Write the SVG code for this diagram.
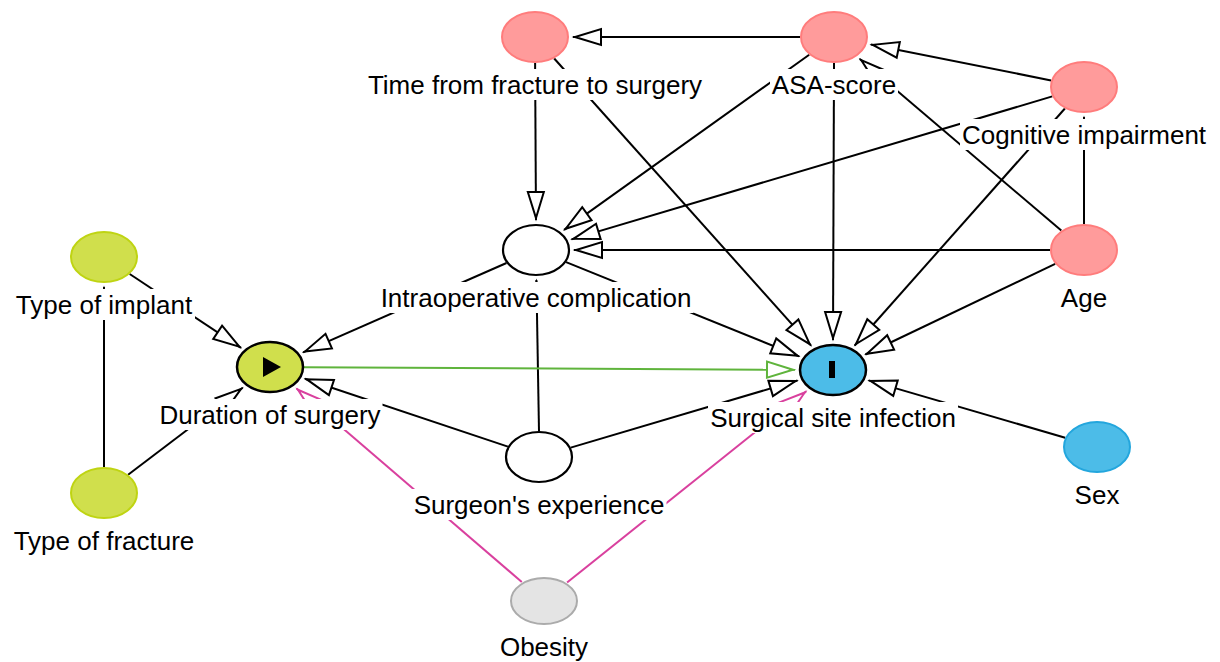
<svg xmlns="http://www.w3.org/2000/svg" width="1220" height="662" viewBox="0 0 1220 662">
  <style>
    .edge { fill: none; stroke: #000; stroke-width: 2; }
    .edge.causal { stroke: #5fb43c; }
    .edge.bias { stroke: #d9409e; }
    .lblbg { fill: #fff; }
    .lbl { font-family: "Liberation Sans", Arial, sans-serif; font-size: 26px; fill: #000; text-anchor: middle; }
    .conf { fill: #ff9b9b; stroke: #ff7c7c; stroke-width: 2; }
    .anc-exp { fill: #d0df4c; stroke: #bfd412; stroke-width: 2; }
    .anc-out { fill: #4cbce8; stroke: #23a6dd; stroke-width: 2; }
    .plain { fill: #fff; stroke: #000; stroke-width: 2.2; }
    .exposure { fill: #d0df4c; stroke: #000; stroke-width: 2.5; }
    .outcome { fill: #4cbce8; stroke: #000; stroke-width: 2.5; }
    .other { fill: #e4e4e4; stroke: #ababab; stroke-width: 2; }
  </style>
  <defs>
    <marker id="arr" viewBox="-32 -11 34 22" refX="0" refY="0" markerWidth="34" markerHeight="22" markerUnits="userSpaceOnUse" orient="auto">
      <path d="M-2,0 L-28,-8 L-28,8 Z" fill="#fff" stroke="#000" stroke-width="2"/>
    </marker>
    <marker id="arr-causal" viewBox="-32 -11 34 22" refX="0" refY="0" markerWidth="34" markerHeight="22" markerUnits="userSpaceOnUse" orient="auto">
      <path d="M-2,0 L-28,-8 L-28,8 Z" fill="#fff" stroke="#5fb43c" stroke-width="2"/>
    </marker>
    <marker id="arr-bias" viewBox="-32 -11 34 22" refX="0" refY="0" markerWidth="34" markerHeight="22" markerUnits="userSpaceOnUse" orient="auto">
      <path d="M-2,0 L-28,-8 L-28,8 Z" fill="#fff" stroke="#d9409e" stroke-width="2"/>
    </marker>
  </defs>

  <rect width="1220" height="662" fill="#fff"/>

  <!-- connectors, clipped at the ellipse borders -->
  <g id="edges">
    <line class="edge" x1="800" y1="37" x2="573" y2="37" marker-end="url(#arr)"/>
    <line class="edge" x1="1051.1" y1="80.4" x2="870.8" y2="44.4" marker-end="url(#arr)"/>
    <line class="edge" x1="1061.3" y1="230.6" x2="859.8" y2="58.9" marker-end="url(#arr)"/>
    <line class="edge" x1="535.1" y1="63" x2="536" y2="220" marker-end="url(#arr)"/>
    <line class="edge" x1="554.2" y1="58.5" x2="811.1" y2="345.6" marker-end="url(#arr)"/>
    <line class="edge" x1="809.2" y1="54.8" x2="564.1" y2="229.9" marker-end="url(#arr)"/>
    <line class="edge" x1="834" y1="63" x2="833" y2="340" marker-end="url(#arr)"/>
    <line class="edge" x1="1052.3" y1="96.4" x2="571.5" y2="239.4" marker-end="url(#arr)"/>
    <line class="edge" x1="1064.9" y1="108.5" x2="854.7" y2="345.5" marker-end="url(#arr)"/>
    <line class="edge" x1="1084" y1="224" x2="1084" y2="117" marker-end="url(#arr)"/>
    <line class="edge" x1="1050" y1="250" x2="574" y2="250" marker-end="url(#arr)"/>
    <line class="edge" x1="1055.2" y1="263.8" x2="865.4" y2="354.5" marker-end="url(#arr)"/>
    <line class="edge" x1="1065.2" y1="437.7" x2="868.6" y2="380.4" marker-end="url(#arr)"/>
    <line class="edge" x1="506.5" y1="263" x2="303.1" y2="352.4" marker-end="url(#arr)"/>
    <line class="edge" x1="566.1" y1="262.1" x2="799.2" y2="356.4" marker-end="url(#arr)"/>
    <line class="edge" x1="507.9" y1="446.6" x2="304.9" y2="378.7" marker-end="url(#arr)"/>
    <line class="edge" x1="570.7" y1="447.6" x2="797.5" y2="380.5" marker-end="url(#arr)"/>
    <line class="edge" x1="539" y1="431" x2="536.4" y2="280" marker-end="url(#arr)"/>
    <line class="edge" x1="129.7" y1="274" x2="241" y2="347.8" marker-end="url(#arr)"/>
    <line class="edge" x1="128.1" y1="474.7" x2="242.7" y2="387.7" marker-end="url(#arr)"/>
    <line class="edge" x1="104" y1="467" x2="104" y2="287" marker-end="url(#arr)"/>
    <line class="edge causal" x1="304" y1="367.2" x2="795" y2="369.8" marker-end="url(#arr-causal)"/>
    <line class="edge bias" x1="521.8" y1="582" x2="296.5" y2="388.5" marker-end="url(#arr-bias)"/>
    <line class="edge bias" x1="567.1" y1="582.5" x2="806.3" y2="391.2" marker-end="url(#arr-bias)"/>
  </g>

  <!-- variables -->
  <g id="time-to-surgery">
    <ellipse class="conf" cx="535" cy="37" rx="33" ry="25"/>
    <rect class="lblbg" x="365.5" y="69" width="339" height="31"/>
    <text class="lbl" x="535" y="94">Time from fracture to surgery</text>
  </g>
  <g id="asa-score">
    <ellipse class="conf" cx="834" cy="37" rx="33" ry="25"/>
    <rect class="lblbg" x="770" y="69" width="128" height="31"/>
    <text class="lbl" x="834" y="94">ASA-score</text>
  </g>
  <g id="cognitive-impairment">
    <ellipse class="conf" cx="1084" cy="87" rx="33" ry="25"/>
    <rect class="lblbg" x="960" y="119" width="248" height="31"/>
    <text class="lbl" x="1084" y="144">Cognitive impairment</text>
  </g>
  <g id="age">
    <ellipse class="conf" cx="1084" cy="250" rx="33" ry="25"/>
    <rect class="lblbg" x="1059" y="282" width="50" height="31"/>
    <text class="lbl" x="1084" y="307">Age</text>
  </g>
  <g id="intraoperative-complication">
    <ellipse class="plain" cx="536" cy="250" rx="33" ry="25"/>
    <rect class="lblbg" x="378.5" y="282" width="315" height="31"/>
    <text class="lbl" x="536" y="307">Intraoperative complication</text>
  </g>
  <g id="type-of-implant">
    <ellipse class="anc-exp" cx="104" cy="257" rx="33" ry="25"/>
    <rect class="lblbg" x="13" y="289" width="182" height="31"/>
    <text class="lbl" x="104" y="314">Type of implant</text>
  </g>
  <g id="duration-of-surgery">
    <ellipse class="exposure" cx="270" cy="367" rx="33" ry="25"/>
    <path d="M263,357 L281,367 L263,377 Z" fill="#000"/>
    <rect class="lblbg" x="157.5" y="399" width="225" height="31"/>
    <text class="lbl" x="270" y="424">Duration of surgery</text>
  </g>
  <g id="surgical-site-infection">
    <ellipse class="outcome" cx="833" cy="370" rx="33" ry="25"/>
    <rect x="829" y="361" width="6" height="17" fill="#000"/>
    <rect class="lblbg" x="708" y="402" width="250" height="31"/>
    <text class="lbl" x="833" y="427">Surgical site infection</text>
  </g>
  <g id="surgeons-experience">
    <ellipse class="plain" cx="539" cy="457" rx="33" ry="25"/>
    <rect class="lblbg" x="411.5" y="489" width="255" height="31"/>
    <text class="lbl" x="539" y="514">Surgeon's experience</text>
  </g>
  <g id="type-of-fracture">
    <ellipse class="anc-exp" cx="104" cy="493" rx="33" ry="25"/>
    <rect class="lblbg" x="11" y="525" width="186" height="31"/>
    <text class="lbl" x="104" y="550">Type of fracture</text>
  </g>
  <g id="sex">
    <ellipse class="anc-out" cx="1097" cy="447" rx="33" ry="25"/>
    <rect class="lblbg" x="1072.5" y="479" width="49" height="31"/>
    <text class="lbl" x="1097" y="504">Sex</text>
  </g>
  <g id="obesity">
    <ellipse class="other" cx="544" cy="601" rx="33" ry="23"/>
    <rect class="lblbg" x="498" y="631" width="92" height="31"/>
    <text class="lbl" x="544" y="656">Obesity</text>
  </g>
</svg>
